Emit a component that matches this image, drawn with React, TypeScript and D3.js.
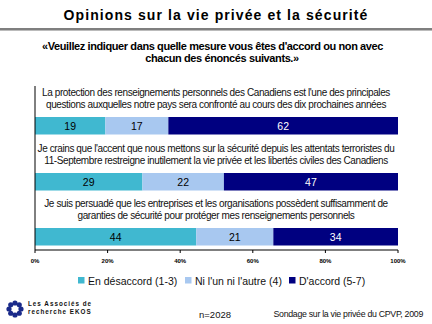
import React from "react";
import * as d3 from "d3";

const statements: string[][] = [
  [
    "La protection des renseignements personnels des Canadiens est l'une des principales",
    "questions auxquelles notre pays sera confronté au cours des dix prochaines années",
  ],
  [
    "Je crains que l'accent que nous mettons sur la sécurité depuis les attentats terroristes du",
    "11-Septembre restreigne inutilement la vie privée et les libertés civiles des Canadiens",
  ],
  [
    "Je suis persuadé que les entreprises et les organisations possèdent suffisamment de",
    "garanties de sécurité pour protéger mes renseignements personnels",
  ],
];
const disagree = [19, 29, 44];
const neutral = [17, 22, 21];
const agree = [62, 47, 34];
const seriesNames = ["En désaccord (1-3)", "Ni l'un ni l'autre (4)", "D'accord (5-7)"];
const seriesColors = ["#40B8D0", "#A8C8F0", "#000080"];
const labelColors = ["#000", "#000", "#fff"];
const ticks = [0, 20, 40, 60, 80, 100];

const W = 432;
const H = 324;
const FONT = "'Liberation Sans', Arial, sans-serif";

export default function App() {
  const x = d3.scaleLinear().domain([0, 100]).range([35, 398]);
  const rowY = [117, 173, 228];
  const barH = 17.5;
  const series = [disagree, neutral, agree];

  return (
    <svg width={W} height={H} style={{ position: "absolute", left: 0, top: 0, background: "#fff" }} fontFamily={FONT}>
      {/* Title */}
      <text x={216} y={20} textAnchor="middle" fontSize={14} fontWeight="bold" letterSpacing={1.1}>
        Opinions sur la vie privée et la sécurité
      </text>
      <line x1={0} x2={W} y1={29} y2={29} stroke="#555" strokeWidth={1.5} />
      <line x1={0} x2={W} y1={30.5} y2={30.5} stroke="#bbb" strokeWidth={1} />
      {/* Subtitle */}
      <text x={212.5} y={50} textAnchor="middle" fontSize={11} fontWeight="bold" letterSpacing={-0.4}>
        «Veuillez indiquer dans quelle mesure vous êtes d'accord ou non avec
      </text>
      <text x={222} y={62} textAnchor="middle" fontSize={11} fontWeight="bold" letterSpacing={-0.4}>
        chacun des énoncés suivants.»
      </text>

      {/* Bars */}
      {statements.map((lines, i) => {
        const total = disagree[i] + neutral[i] + agree[i];
        let cum = 0;
        const y0 = rowY[i];
        return (
          <g key={i}>
            {lines.map((ln, j) => (
              <text key={j} x={216} y={y0 - 21.5 + j * 12.8} textAnchor="middle" fontSize={10} fill="#111" letterSpacing={-0.4}>
                {ln}
              </text>
            ))}
            {series.map((s, k) => {
              const v = s[i];
              const a = (cum / total) * 100;
              cum += v;
              const b = (cum / total) * 100;
              return (
                <g key={k}>
                  <rect x={x(a)} y={y0} width={x(b) - x(a)} height={barH} fill={seriesColors[k]} />
                  <text x={(x(a) + x(b)) / 2} y={y0 + barH / 2 + 3.8} textAnchor="middle" fontSize={10.5} fill={labelColors[k]}>
                    {v}
                  </text>
                </g>
              );
            })}
          </g>
        );
      })}

      {/* Axes */}
      <line x1={35} x2={35} y1={86} y2={250} stroke="#000" strokeWidth={1} />
      <line x1={35} x2={398} y1={250} y2={250} stroke="#000" strokeWidth={1} />
      {ticks.map((t) => (
        <g key={t}>
          <line x1={x(t)} x2={x(t)} y1={250} y2={253} stroke="#000" strokeWidth={1} />
          <text x={x(t)} y={263} textAnchor="middle" fontSize={6} fontWeight="bold">
            {t}%
          </text>
        </g>
      ))}

      {/* Legend */}
      {seriesNames.map((n, k) => {
        const lx = [78, 185, 289][k];
        return (
          <g key={n}>
            <rect x={lx} y={277} width={6.5} height={6.5} fill={seriesColors[k]} />
            <text x={lx + 10} y={284.5} fontSize={10.5} fill="#111">
              {n}
            </text>
          </g>
        );
      })}

      {/* Footer */}
      <g>
        {d3.range(8).map((i) => {
          const ang = (i / 8) * Math.PI * 2;
          return <circle key={i} cx={15 + Math.cos(ang) * 6} cy={309 + Math.sin(ang) * 6} r={2.6} fill="#1a2a8a" />;
        })}
        <circle cx={15} cy={309} r={3} fill="#fff" />
      </g>
      <text x={28} y={306} fontSize={6.3} fontWeight="bold" letterSpacing={1.0} fill="#111">
        Les Associés de
      </text>
      <text x={28} y={314} fontSize={6.3} fontWeight="bold" letterSpacing={1.0} fill="#111">
        recherche EKOS
      </text>
      <text x={215} y={318} textAnchor="middle" fontSize={9.5} fill="#111">
        n=2028
      </text>
      <text x={423} y={317} textAnchor="end" fontSize={8.8} fill="#111" letterSpacing={-0.3}>
        Sondage sur la vie privée du CPVP, 2009
      </text>
    </svg>
  );
}
